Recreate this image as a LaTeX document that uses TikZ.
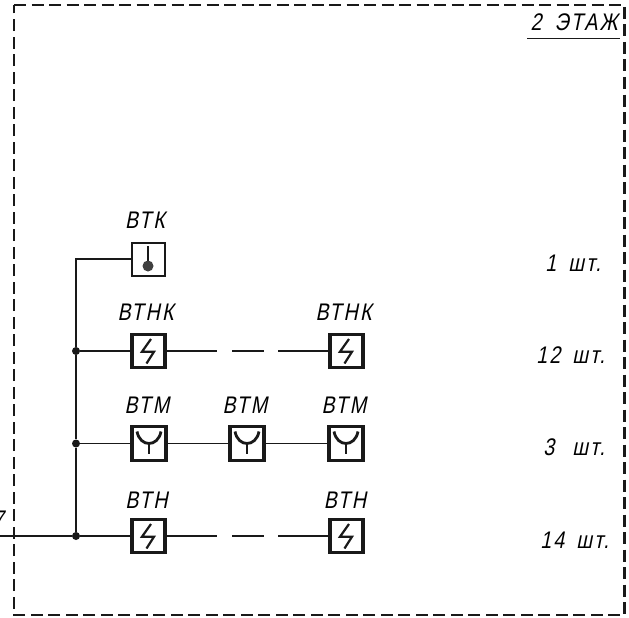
\documentclass[tikz,border=0pt]{standalone}
\usepackage{fontspec}
\setmainfont[FakeSlant=0.2,FakeStretch=0.82,LetterSpace=9]{Liberation Sans}
\usetikzlibrary{calc}
\tikzset{
  wire/.style={line width=1.9pt,black!90},
  frameline/.style={line width=2.1pt,dash pattern=on 12pt off 5.5pt,black!90},
  thinbox/.style={draw=black!90,line width=2pt,fill=white,minimum size=33pt,inner sep=0pt,outer sep=0pt},
  boltbox/.style={draw=black!90,line width=3.2pt,fill=white,minimum size=33pt,inner sep=0pt,outer sep=0pt},
  forkbox/.style={draw=black!90,line width=3.8pt,fill=white,minimum size=34pt,inner sep=0pt,outer sep=0pt},
  lbl/.style={font=\fontsize{24}{24}\selectfont,inner sep=0pt,anchor=base},
  cnt/.style={font=\fontsize{24}{24}\selectfont,inner sep=0pt,anchor=base east},
  jn/.style={circle,fill=black!90,minimum size=8pt,inner sep=0pt},
  sym/.style={line width=2.2pt,black!90},
  breakline/.style={wire,dash pattern=on 52pt off 15pt on 32pt off 14pt on 60pt}
}
\newcommand{\boltsym}[1]{\draw[sym,line join=miter] ($(#1)+(2.5,-12)$) -- ($(#1)+(-6.5,0.7)$) -- ($(#1)+(5.5,0.7)$) -- ($(#1)+(-2,12.5)$);}
\newcommand{\forksym}[1]{\draw[sym,line width=2.8pt] ($(#1)+(-12,-12)$) .. controls ($(#1)+(-9,4)$) and ($(#1)+(9,4)$) .. ($(#1)+(12,-12)$);\draw[sym] ($(#1)+(0,0)$) -- ($(#1)+(0,10)$);}
\begin{document}
\begin{tikzpicture}[x=1pt,y=-1pt]
\useasboundingbox (0,0) rectangle (629,618);
\draw[frameline] (14,5) -- (624.5,5) -- (624.5,615) -- (14,615) -- cycle;
\node[lbl,anchor=base east] (title) at (618,31) {2\hspace{13pt}ЭТАЖ};
\coordinate (ta) at (527,38.5); \coordinate (tb) at (620,38.5);
\draw[line width=1.9pt,black!90] (ta) -- (tb);
% boxes
\node[thinbox] (vtk) at (148,259) {};
\node[boltbox] (a1) at (148.5,351) {};
\node[boltbox] (a2) at (346.5,351) {};
\node[forkbox] (b1) at (149,443.5) {};
\node[forkbox] (b2) at (247,443.5) {};
\node[forkbox] (b3) at (346,443.5) {};
\node[boltbox] (c1) at (148.5,536) {};
\node[boltbox] (c2) at (346.5,536) {};
% junctions
\node[jn] (j1) at (76,351) {};
\node[jn] (j2) at (76,443.5) {};
\node[jn] (j3) at (76,536) {};
\coordinate (corner) at (76,259);
\coordinate (in) at (0,536);
\draw[wire] (vtk.west) -- (corner) -- (j1) -- (j2) -- (j3);
\draw[wire] (in) -- (j3) -- (c1.west);
\draw[wire] (j1) -- (a1.west);
\draw[wire] (j2) -- (b1.west);
\draw[wire] (b1.east) -- (b2.west);
\draw[wire] (b2.east) -- (b3.west);
\draw[breakline] (a1.east) -- (a2.west);
\draw[breakline] (c1.east) -- (c2.west);
% symbols
\draw[line width=1.6pt,black!90] (148,246) -- (148,266);
\node[circle,fill=black!75,minimum size=11pt,inner sep=0pt] (ball) at (148,266) {};
\boltsym{a1}\boltsym{a2}\boltsym{c1}\boltsym{c2}
\forksym{b1}\forksym{b2}\forksym{b3}
% labels
\node[lbl] (l1) at (145,228) {ВТК};
\node[lbl] (l2) at (145.5,320) {ВТНК};
\node[lbl] (l3) at (343.5,320) {ВТНК};
\node[lbl] (l4) at (147,413) {ВТМ};
\node[lbl] (l5) at (245,413) {ВТМ};
\node[lbl] (l6) at (344,413) {ВТМ};
\node[lbl] (l7) at (146.5,508) {ВТН};
\node[lbl] (l8) at (345,508) {ВТН};
\node[cnt] (n1) at (601,271) {1\hspace{12pt}шт.};
\node[cnt] (n2) at (605,363) {12\hspace{12pt}шт.};
\node[cnt] (n3) at (605,455) {3\hspace{18pt}шт.};
\node[cnt] (n4) at (609,548) {14\hspace{12pt}шт.};
\node[lbl,anchor=base east] (cut) at (4,527) {7};
\end{tikzpicture}
\end{document}
